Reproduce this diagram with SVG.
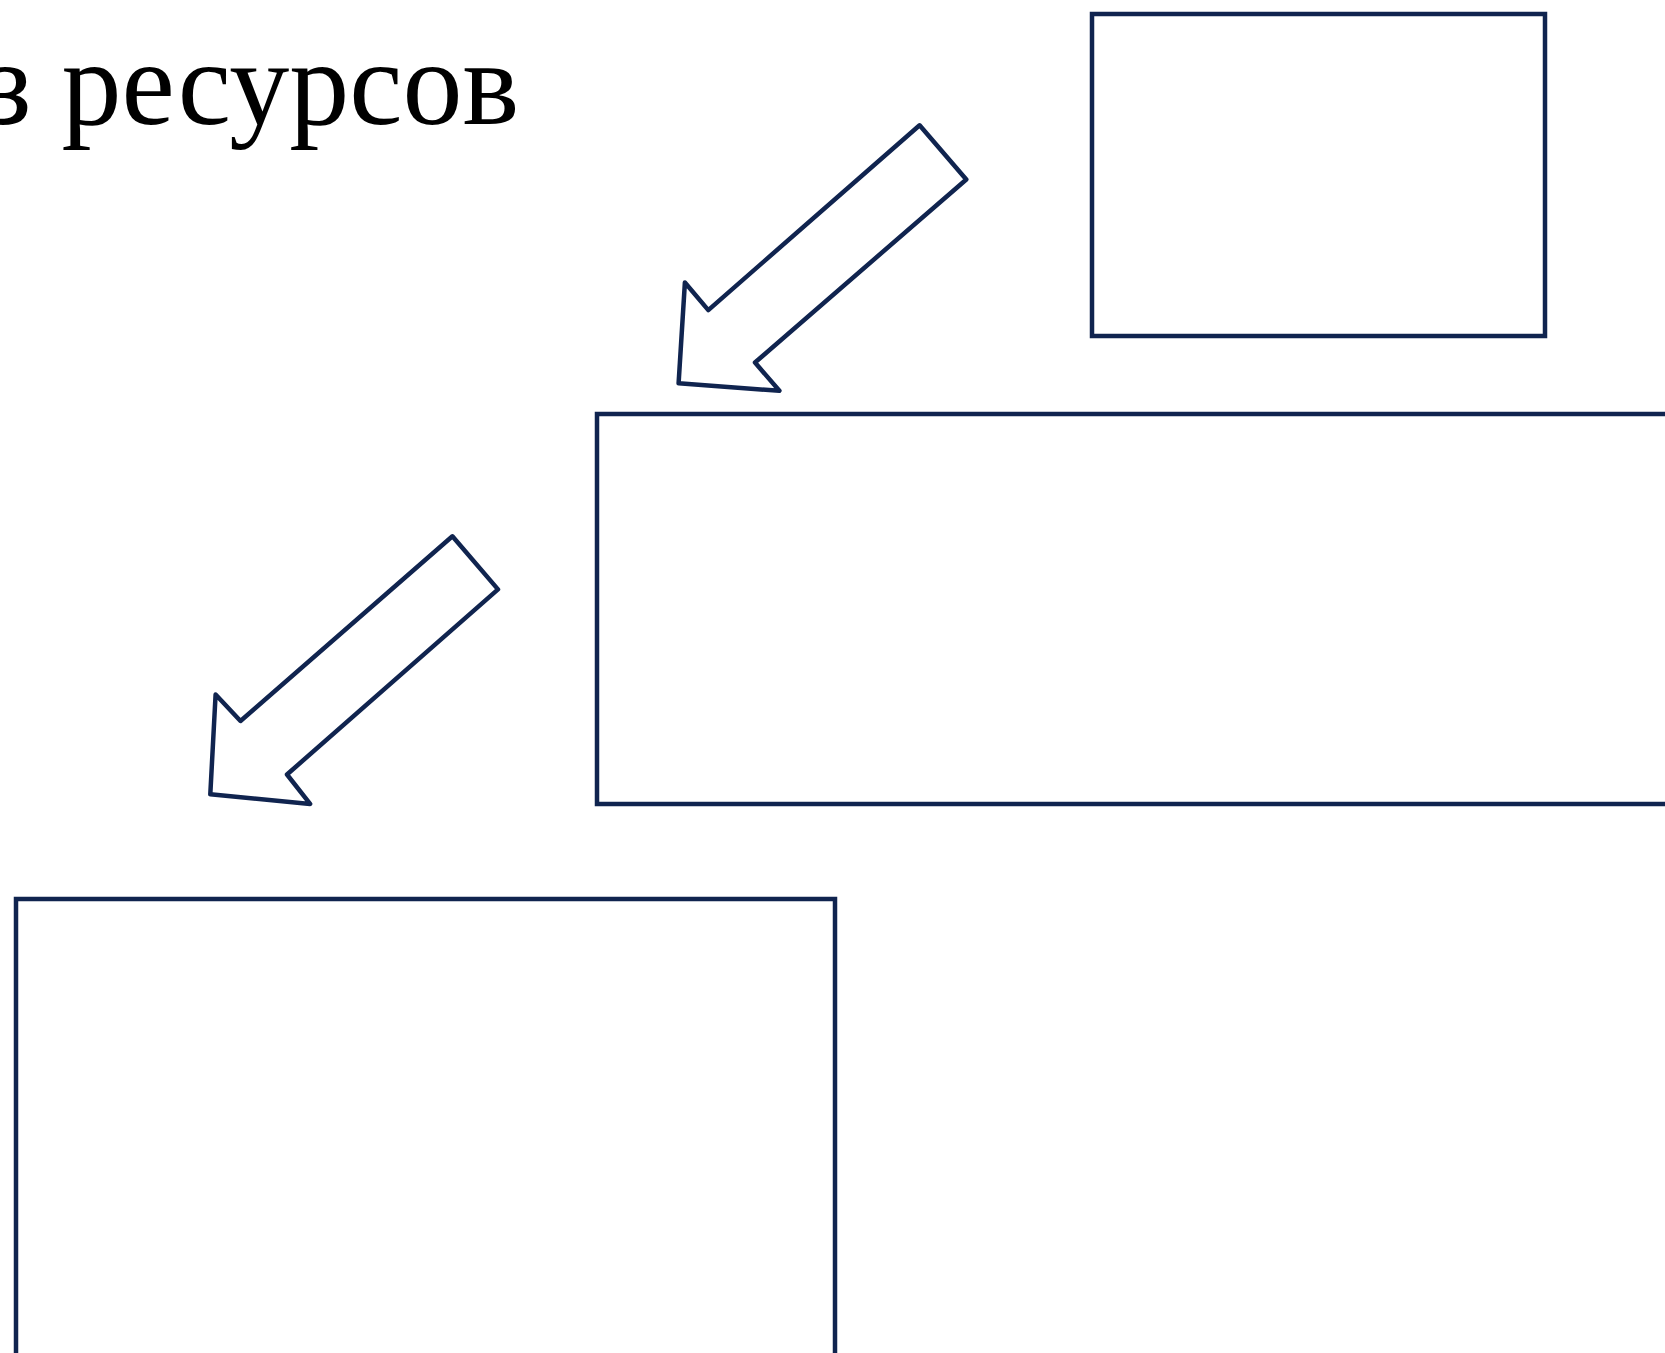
<svg xmlns="http://www.w3.org/2000/svg" width="1665" height="1353" viewBox="0 0 1665 1353">
<style>
.box{fill:#ffffff;stroke:#10244f;stroke-width:4.5}
.arrow{fill:#ffffff;stroke:#10244f;stroke-width:4.5;stroke-linejoin:round}
.title{font-family:"Liberation Serif","Times New Roman",serif;font-size:120px;fill:#000000}
</style>
<rect width="1665" height="1353" fill="#ffffff"/>
<text class="title" x="-16" y="124">з ресурсов</text>
<g id="node-top">
<rect class="box" x="1092" y="14" width="453" height="322"/>
</g>
<g id="node-middle">
<rect class="box" x="597" y="414" width="1080" height="390"/>
</g>
<g id="node-bottom">
<rect class="box" x="16" y="899" width="819" height="470"/>
</g>
<g id="connectors">
<polygon class="arrow" points="919.6,125.3 966.3,179.5 755,362.5 779.4,390.8 678.6,383.3 684.9,282.5 708.3,310.1"/>
<polygon class="arrow" points="452.4,536.3 498,589.4 287,774.5 310.1,803.9 210.3,794.3 215.6,694.5 240.5,721"/>
</g>
</svg>
